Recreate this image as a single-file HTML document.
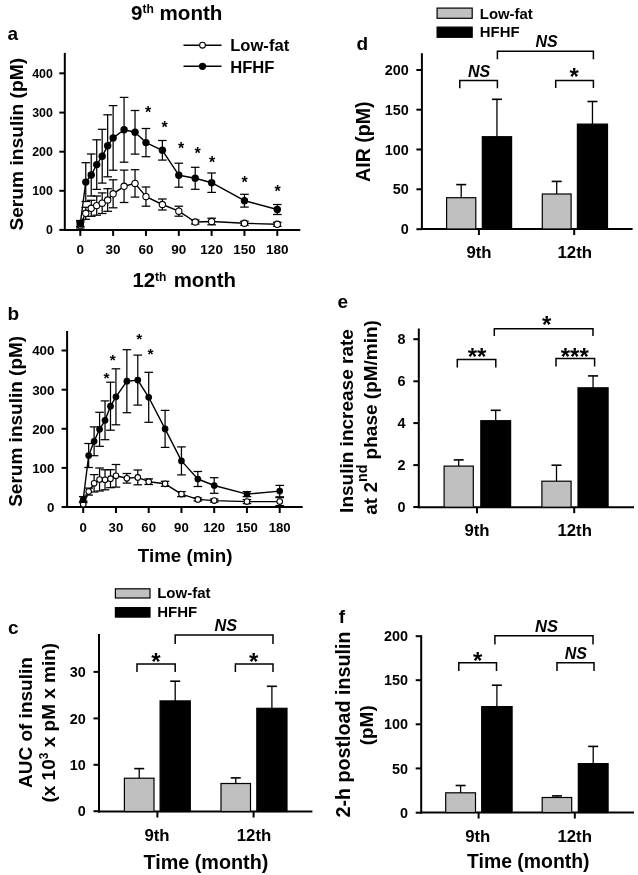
<!DOCTYPE html>
<html><head><meta charset="utf-8"><style>
html,body{margin:0;padding:0;background:#fff;}
svg{display:block;will-change:transform;}
text{font-family:"Liberation Sans", sans-serif;fill:#000;}
</style></head><body>
<svg width="638" height="875" viewBox="0 0 638 875">
<rect width="638" height="875" fill="#fff"/>
<line x1="64.80" y1="52.90" x2="64.80" y2="230.90" stroke="#000" stroke-width="2.0"/>
<line x1="63.80" y1="229.90" x2="300.30" y2="229.90" stroke="#000" stroke-width="2.0"/>
<line x1="59.30" y1="229.90" x2="64.80" y2="229.90" stroke="#000" stroke-width="2.0"/>
<text x="52.90" y="234.34" font-size="12.4" text-anchor="end" font-style="normal" font-weight="bold">0</text>
<line x1="59.30" y1="190.80" x2="64.80" y2="190.80" stroke="#000" stroke-width="2.0"/>
<text x="52.90" y="195.24" font-size="12.4" text-anchor="end" font-style="normal" font-weight="bold">100</text>
<line x1="59.30" y1="151.70" x2="64.80" y2="151.70" stroke="#000" stroke-width="2.0"/>
<text x="52.90" y="156.14" font-size="12.4" text-anchor="end" font-style="normal" font-weight="bold">200</text>
<line x1="59.30" y1="112.60" x2="64.80" y2="112.60" stroke="#000" stroke-width="2.0"/>
<text x="52.90" y="117.04" font-size="12.4" text-anchor="end" font-style="normal" font-weight="bold">300</text>
<line x1="59.30" y1="73.30" x2="64.80" y2="73.30" stroke="#000" stroke-width="2.0"/>
<text x="52.90" y="77.74" font-size="12.4" text-anchor="end" font-style="normal" font-weight="bold">400</text>
<line x1="80.30" y1="229.90" x2="80.30" y2="235.90" stroke="#000" stroke-width="2.0"/>
<text x="80.30" y="253.90" font-size="13.5" text-anchor="middle" font-style="normal" font-weight="bold">0</text>
<line x1="113.13" y1="229.90" x2="113.13" y2="235.90" stroke="#000" stroke-width="2.0"/>
<text x="113.13" y="253.90" font-size="13.5" text-anchor="middle" font-style="normal" font-weight="bold">30</text>
<line x1="145.96" y1="229.90" x2="145.96" y2="235.90" stroke="#000" stroke-width="2.0"/>
<text x="145.96" y="253.90" font-size="13.5" text-anchor="middle" font-style="normal" font-weight="bold">60</text>
<line x1="178.80" y1="229.90" x2="178.80" y2="235.90" stroke="#000" stroke-width="2.0"/>
<text x="178.80" y="253.90" font-size="13.5" text-anchor="middle" font-style="normal" font-weight="bold">90</text>
<line x1="211.63" y1="229.90" x2="211.63" y2="235.90" stroke="#000" stroke-width="2.0"/>
<text x="211.63" y="253.90" font-size="13.5" text-anchor="middle" font-style="normal" font-weight="bold">120</text>
<line x1="244.46" y1="229.90" x2="244.46" y2="235.90" stroke="#000" stroke-width="2.0"/>
<text x="244.46" y="253.90" font-size="13.5" text-anchor="middle" font-style="normal" font-weight="bold">150</text>
<line x1="277.29" y1="229.90" x2="277.29" y2="235.90" stroke="#000" stroke-width="2.0"/>
<text x="277.29" y="253.90" font-size="13.5" text-anchor="middle" font-style="normal" font-weight="bold">180</text>
<line x1="80.30" y1="222.00" x2="80.30" y2="228.00" stroke="#000" stroke-width="1.25"/>
<line x1="76.00" y1="222.00" x2="84.60" y2="222.00" stroke="#000" stroke-width="1.25"/>
<line x1="76.00" y1="228.00" x2="84.60" y2="228.00" stroke="#000" stroke-width="1.25"/>
<line x1="85.77" y1="207.30" x2="85.77" y2="219.30" stroke="#000" stroke-width="1.25"/>
<line x1="81.47" y1="207.30" x2="90.07" y2="207.30" stroke="#000" stroke-width="1.25"/>
<line x1="81.47" y1="219.30" x2="90.07" y2="219.30" stroke="#000" stroke-width="1.25"/>
<line x1="91.24" y1="200.30" x2="91.24" y2="216.30" stroke="#000" stroke-width="1.25"/>
<line x1="86.94" y1="200.30" x2="95.54" y2="200.30" stroke="#000" stroke-width="1.25"/>
<line x1="86.94" y1="216.30" x2="95.54" y2="216.30" stroke="#000" stroke-width="1.25"/>
<line x1="96.72" y1="196.00" x2="96.72" y2="215.20" stroke="#000" stroke-width="1.25"/>
<line x1="92.42" y1="196.00" x2="101.02" y2="196.00" stroke="#000" stroke-width="1.25"/>
<line x1="92.42" y1="215.20" x2="101.02" y2="215.20" stroke="#000" stroke-width="1.25"/>
<line x1="102.19" y1="192.90" x2="102.19" y2="213.50" stroke="#000" stroke-width="1.25"/>
<line x1="97.89" y1="192.90" x2="106.49" y2="192.90" stroke="#000" stroke-width="1.25"/>
<line x1="97.89" y1="213.50" x2="106.49" y2="213.50" stroke="#000" stroke-width="1.25"/>
<line x1="107.66" y1="188.70" x2="107.66" y2="211.30" stroke="#000" stroke-width="1.25"/>
<line x1="103.36" y1="188.70" x2="111.96" y2="188.70" stroke="#000" stroke-width="1.25"/>
<line x1="103.36" y1="211.30" x2="111.96" y2="211.30" stroke="#000" stroke-width="1.25"/>
<line x1="113.13" y1="179.80" x2="113.13" y2="207.80" stroke="#000" stroke-width="1.25"/>
<line x1="108.83" y1="179.80" x2="117.43" y2="179.80" stroke="#000" stroke-width="1.25"/>
<line x1="108.83" y1="207.80" x2="117.43" y2="207.80" stroke="#000" stroke-width="1.25"/>
<line x1="124.08" y1="170.10" x2="124.08" y2="202.50" stroke="#000" stroke-width="1.25"/>
<line x1="119.78" y1="170.10" x2="128.38" y2="170.10" stroke="#000" stroke-width="1.25"/>
<line x1="119.78" y1="202.50" x2="128.38" y2="202.50" stroke="#000" stroke-width="1.25"/>
<line x1="135.02" y1="169.70" x2="135.02" y2="197.10" stroke="#000" stroke-width="1.25"/>
<line x1="130.72" y1="169.70" x2="139.32" y2="169.70" stroke="#000" stroke-width="1.25"/>
<line x1="130.72" y1="197.10" x2="139.32" y2="197.10" stroke="#000" stroke-width="1.25"/>
<line x1="145.96" y1="187.00" x2="145.96" y2="206.20" stroke="#000" stroke-width="1.25"/>
<line x1="141.66" y1="187.00" x2="150.26" y2="187.00" stroke="#000" stroke-width="1.25"/>
<line x1="141.66" y1="206.20" x2="150.26" y2="206.20" stroke="#000" stroke-width="1.25"/>
<line x1="162.38" y1="199.00" x2="162.38" y2="210.00" stroke="#000" stroke-width="1.25"/>
<line x1="158.08" y1="199.00" x2="166.68" y2="199.00" stroke="#000" stroke-width="1.25"/>
<line x1="158.08" y1="210.00" x2="166.68" y2="210.00" stroke="#000" stroke-width="1.25"/>
<line x1="178.80" y1="206.20" x2="178.80" y2="216.20" stroke="#000" stroke-width="1.25"/>
<line x1="174.50" y1="206.20" x2="183.10" y2="206.20" stroke="#000" stroke-width="1.25"/>
<line x1="174.50" y1="216.20" x2="183.10" y2="216.20" stroke="#000" stroke-width="1.25"/>
<line x1="195.21" y1="220.00" x2="195.21" y2="224.00" stroke="#000" stroke-width="1.25"/>
<line x1="190.91" y1="220.00" x2="199.51" y2="220.00" stroke="#000" stroke-width="1.25"/>
<line x1="190.91" y1="224.00" x2="199.51" y2="224.00" stroke="#000" stroke-width="1.25"/>
<line x1="211.63" y1="218.20" x2="211.63" y2="224.80" stroke="#000" stroke-width="1.25"/>
<line x1="207.33" y1="218.20" x2="215.93" y2="218.20" stroke="#000" stroke-width="1.25"/>
<line x1="207.33" y1="224.80" x2="215.93" y2="224.80" stroke="#000" stroke-width="1.25"/>
<line x1="244.46" y1="221.30" x2="244.46" y2="225.30" stroke="#000" stroke-width="1.25"/>
<line x1="240.16" y1="221.30" x2="248.76" y2="221.30" stroke="#000" stroke-width="1.25"/>
<line x1="240.16" y1="225.30" x2="248.76" y2="225.30" stroke="#000" stroke-width="1.25"/>
<line x1="277.29" y1="222.30" x2="277.29" y2="226.30" stroke="#000" stroke-width="1.25"/>
<line x1="272.99" y1="222.30" x2="281.59" y2="222.30" stroke="#000" stroke-width="1.25"/>
<line x1="272.99" y1="226.30" x2="281.59" y2="226.30" stroke="#000" stroke-width="1.25"/>
<line x1="80.30" y1="220.50" x2="80.30" y2="226.50" stroke="#000" stroke-width="1.25"/>
<line x1="76.00" y1="220.50" x2="84.60" y2="220.50" stroke="#000" stroke-width="1.25"/>
<line x1="76.00" y1="226.50" x2="84.60" y2="226.50" stroke="#000" stroke-width="1.25"/>
<line x1="85.77" y1="162.70" x2="85.77" y2="201.50" stroke="#000" stroke-width="1.25"/>
<line x1="81.47" y1="162.70" x2="90.07" y2="162.70" stroke="#000" stroke-width="1.25"/>
<line x1="81.47" y1="201.50" x2="90.07" y2="201.50" stroke="#000" stroke-width="1.25"/>
<line x1="91.24" y1="154.00" x2="91.24" y2="196.00" stroke="#000" stroke-width="1.25"/>
<line x1="86.94" y1="154.00" x2="95.54" y2="154.00" stroke="#000" stroke-width="1.25"/>
<line x1="86.94" y1="196.00" x2="95.54" y2="196.00" stroke="#000" stroke-width="1.25"/>
<line x1="96.72" y1="139.80" x2="96.72" y2="189.40" stroke="#000" stroke-width="1.25"/>
<line x1="92.42" y1="139.80" x2="101.02" y2="139.80" stroke="#000" stroke-width="1.25"/>
<line x1="92.42" y1="189.40" x2="101.02" y2="189.40" stroke="#000" stroke-width="1.25"/>
<line x1="102.19" y1="129.30" x2="102.19" y2="183.10" stroke="#000" stroke-width="1.25"/>
<line x1="97.89" y1="129.30" x2="106.49" y2="129.30" stroke="#000" stroke-width="1.25"/>
<line x1="97.89" y1="183.10" x2="106.49" y2="183.10" stroke="#000" stroke-width="1.25"/>
<line x1="107.66" y1="114.80" x2="107.66" y2="176.80" stroke="#000" stroke-width="1.25"/>
<line x1="103.36" y1="114.80" x2="111.96" y2="114.80" stroke="#000" stroke-width="1.25"/>
<line x1="103.36" y1="176.80" x2="111.96" y2="176.80" stroke="#000" stroke-width="1.25"/>
<line x1="113.13" y1="105.60" x2="113.13" y2="170.20" stroke="#000" stroke-width="1.25"/>
<line x1="108.83" y1="105.60" x2="117.43" y2="105.60" stroke="#000" stroke-width="1.25"/>
<line x1="108.83" y1="170.20" x2="117.43" y2="170.20" stroke="#000" stroke-width="1.25"/>
<line x1="124.08" y1="97.40" x2="124.08" y2="162.20" stroke="#000" stroke-width="1.25"/>
<line x1="119.78" y1="97.40" x2="128.38" y2="97.40" stroke="#000" stroke-width="1.25"/>
<line x1="119.78" y1="162.20" x2="128.38" y2="162.20" stroke="#000" stroke-width="1.25"/>
<line x1="135.02" y1="110.50" x2="135.02" y2="154.10" stroke="#000" stroke-width="1.25"/>
<line x1="130.72" y1="110.50" x2="139.32" y2="110.50" stroke="#000" stroke-width="1.25"/>
<line x1="130.72" y1="154.10" x2="139.32" y2="154.10" stroke="#000" stroke-width="1.25"/>
<line x1="145.96" y1="128.50" x2="145.96" y2="156.70" stroke="#000" stroke-width="1.25"/>
<line x1="141.66" y1="128.50" x2="150.26" y2="128.50" stroke="#000" stroke-width="1.25"/>
<line x1="141.66" y1="156.70" x2="150.26" y2="156.70" stroke="#000" stroke-width="1.25"/>
<line x1="162.38" y1="140.50" x2="162.38" y2="160.10" stroke="#000" stroke-width="1.25"/>
<line x1="158.08" y1="140.50" x2="166.68" y2="140.50" stroke="#000" stroke-width="1.25"/>
<line x1="158.08" y1="160.10" x2="166.68" y2="160.10" stroke="#000" stroke-width="1.25"/>
<line x1="178.80" y1="163.20" x2="178.80" y2="187.20" stroke="#000" stroke-width="1.25"/>
<line x1="174.50" y1="163.20" x2="183.10" y2="163.20" stroke="#000" stroke-width="1.25"/>
<line x1="174.50" y1="187.20" x2="183.10" y2="187.20" stroke="#000" stroke-width="1.25"/>
<line x1="195.21" y1="167.30" x2="195.21" y2="189.30" stroke="#000" stroke-width="1.25"/>
<line x1="190.91" y1="167.30" x2="199.51" y2="167.30" stroke="#000" stroke-width="1.25"/>
<line x1="190.91" y1="189.30" x2="199.51" y2="189.30" stroke="#000" stroke-width="1.25"/>
<line x1="211.63" y1="173.00" x2="211.63" y2="192.40" stroke="#000" stroke-width="1.25"/>
<line x1="207.33" y1="173.00" x2="215.93" y2="173.00" stroke="#000" stroke-width="1.25"/>
<line x1="207.33" y1="192.40" x2="215.93" y2="192.40" stroke="#000" stroke-width="1.25"/>
<line x1="244.46" y1="194.30" x2="244.46" y2="207.10" stroke="#000" stroke-width="1.25"/>
<line x1="240.16" y1="194.30" x2="248.76" y2="194.30" stroke="#000" stroke-width="1.25"/>
<line x1="240.16" y1="207.10" x2="248.76" y2="207.10" stroke="#000" stroke-width="1.25"/>
<line x1="277.29" y1="204.50" x2="277.29" y2="214.50" stroke="#000" stroke-width="1.25"/>
<line x1="272.99" y1="204.50" x2="281.59" y2="204.50" stroke="#000" stroke-width="1.25"/>
<line x1="272.99" y1="214.50" x2="281.59" y2="214.50" stroke="#000" stroke-width="1.25"/>
<polyline points="80.30,225.00 85.77,213.30 91.24,208.30 96.72,205.60 102.19,203.20 107.66,200.00 113.13,193.80 124.08,186.30 135.02,183.40 145.96,196.60 162.38,204.50 178.80,211.20 195.21,222.00 211.63,221.50 244.46,223.30 277.29,224.30" fill="none" stroke="#000" stroke-width="1.4" stroke-linejoin="round"/>
<polyline points="80.30,223.50 85.77,182.10 91.24,175.00 96.72,164.60 102.19,156.20 107.66,145.80 113.13,137.90 124.08,129.80 135.02,132.30 145.96,142.60 162.38,150.30 178.80,175.20 195.21,178.30 211.63,182.70 244.46,200.70 277.29,209.50" fill="none" stroke="#000" stroke-width="1.4" stroke-linejoin="round"/>
<circle cx="80.30" cy="225.00" r="3.1500000000000004" fill="#fff" stroke="#000" stroke-width="1.1"/>
<circle cx="85.77" cy="213.30" r="3.1500000000000004" fill="#fff" stroke="#000" stroke-width="1.1"/>
<circle cx="91.24" cy="208.30" r="3.1500000000000004" fill="#fff" stroke="#000" stroke-width="1.1"/>
<circle cx="96.72" cy="205.60" r="3.1500000000000004" fill="#fff" stroke="#000" stroke-width="1.1"/>
<circle cx="102.19" cy="203.20" r="3.1500000000000004" fill="#fff" stroke="#000" stroke-width="1.1"/>
<circle cx="107.66" cy="200.00" r="3.1500000000000004" fill="#fff" stroke="#000" stroke-width="1.1"/>
<circle cx="113.13" cy="193.80" r="3.1500000000000004" fill="#fff" stroke="#000" stroke-width="1.1"/>
<circle cx="124.08" cy="186.30" r="3.1500000000000004" fill="#fff" stroke="#000" stroke-width="1.1"/>
<circle cx="135.02" cy="183.40" r="3.1500000000000004" fill="#fff" stroke="#000" stroke-width="1.1"/>
<circle cx="145.96" cy="196.60" r="3.1500000000000004" fill="#fff" stroke="#000" stroke-width="1.1"/>
<circle cx="162.38" cy="204.50" r="3.1500000000000004" fill="#fff" stroke="#000" stroke-width="1.1"/>
<circle cx="178.80" cy="211.20" r="3.1500000000000004" fill="#fff" stroke="#000" stroke-width="1.1"/>
<circle cx="195.21" cy="222.00" r="3.1500000000000004" fill="#fff" stroke="#000" stroke-width="1.1"/>
<circle cx="211.63" cy="221.50" r="3.1500000000000004" fill="#fff" stroke="#000" stroke-width="1.1"/>
<circle cx="244.46" cy="223.30" r="3.1500000000000004" fill="#fff" stroke="#000" stroke-width="1.1"/>
<circle cx="277.29" cy="224.30" r="3.1500000000000004" fill="#fff" stroke="#000" stroke-width="1.1"/>
<circle cx="80.30" cy="223.50" r="3.7" fill="#000" stroke="#000" stroke-width="0"/>
<circle cx="85.77" cy="182.10" r="3.7" fill="#000" stroke="#000" stroke-width="0"/>
<circle cx="91.24" cy="175.00" r="3.7" fill="#000" stroke="#000" stroke-width="0"/>
<circle cx="96.72" cy="164.60" r="3.7" fill="#000" stroke="#000" stroke-width="0"/>
<circle cx="102.19" cy="156.20" r="3.7" fill="#000" stroke="#000" stroke-width="0"/>
<circle cx="107.66" cy="145.80" r="3.7" fill="#000" stroke="#000" stroke-width="0"/>
<circle cx="113.13" cy="137.90" r="3.7" fill="#000" stroke="#000" stroke-width="0"/>
<circle cx="124.08" cy="129.80" r="3.7" fill="#000" stroke="#000" stroke-width="0"/>
<circle cx="135.02" cy="132.30" r="3.7" fill="#000" stroke="#000" stroke-width="0"/>
<circle cx="145.96" cy="142.60" r="3.7" fill="#000" stroke="#000" stroke-width="0"/>
<circle cx="162.38" cy="150.30" r="3.7" fill="#000" stroke="#000" stroke-width="0"/>
<circle cx="178.80" cy="175.20" r="3.7" fill="#000" stroke="#000" stroke-width="0"/>
<circle cx="195.21" cy="178.30" r="3.7" fill="#000" stroke="#000" stroke-width="0"/>
<circle cx="211.63" cy="182.70" r="3.7" fill="#000" stroke="#000" stroke-width="0"/>
<circle cx="244.46" cy="200.70" r="3.7" fill="#000" stroke="#000" stroke-width="0"/>
<circle cx="277.29" cy="209.50" r="3.7" fill="#000" stroke="#000" stroke-width="0"/>
<text x="148.20" y="117.98" font-size="16" text-anchor="middle" font-style="normal" font-weight="bold">*</text>
<text x="164.70" y="133.08" font-size="16" text-anchor="middle" font-style="normal" font-weight="bold">*</text>
<text x="181.00" y="153.98" font-size="16" text-anchor="middle" font-style="normal" font-weight="bold">*</text>
<text x="197.70" y="159.08" font-size="16" text-anchor="middle" font-style="normal" font-weight="bold">*</text>
<text x="212.20" y="167.88" font-size="16" text-anchor="middle" font-style="normal" font-weight="bold">*</text>
<text x="244.70" y="188.28" font-size="16" text-anchor="middle" font-style="normal" font-weight="bold">*</text>
<text x="277.60" y="197.08" font-size="16" text-anchor="middle" font-style="normal" font-weight="bold">*</text>
<text x="131.00" y="19.80" font-size="20.6" text-anchor="start" font-style="normal" font-weight="bold">9<tspan font-size="12" dy="-6.3">th</tspan><tspan dy="6.3"> month</tspan></text>
<text x="7.40" y="40.00" font-size="19" text-anchor="start" font-style="normal" font-weight="bold">a</text>
<text x="22.70" y="230.60" font-size="19.2" text-anchor="start" font-style="normal" font-weight="bold" transform="rotate(-90 22.70 230.60)">Serum insulin (pM)</text>
<line x1="183.50" y1="45.20" x2="221.50" y2="45.20" stroke="#000" stroke-width="1.5"/>
<circle cx="202.50" cy="45.20" r="2.9" fill="#fff" stroke="#000" stroke-width="1.1"/>
<line x1="183.50" y1="66.30" x2="221.50" y2="66.30" stroke="#000" stroke-width="1.5"/>
<circle cx="202.50" cy="66.30" r="3.6" fill="#000" stroke="#000" stroke-width="0"/>
<text x="230.20" y="50.80" font-size="16.6" text-anchor="start" font-style="normal" font-weight="bold">Low-fat</text>
<text x="230.20" y="72.60" font-size="16.6" text-anchor="start" font-style="normal" font-weight="bold">HFHF</text>
<line x1="67.10" y1="331.00" x2="67.10" y2="508.00" stroke="#000" stroke-width="2.0"/>
<line x1="66.10" y1="507.00" x2="302.70" y2="507.00" stroke="#000" stroke-width="2.0"/>
<line x1="61.60" y1="507.00" x2="67.10" y2="507.00" stroke="#000" stroke-width="2.0"/>
<text x="54.50" y="511.80" font-size="13.4" text-anchor="end" font-style="normal" font-weight="bold">0</text>
<line x1="61.60" y1="467.90" x2="67.10" y2="467.90" stroke="#000" stroke-width="2.0"/>
<text x="54.50" y="472.70" font-size="13.4" text-anchor="end" font-style="normal" font-weight="bold">100</text>
<line x1="61.60" y1="428.80" x2="67.10" y2="428.80" stroke="#000" stroke-width="2.0"/>
<text x="54.50" y="433.60" font-size="13.4" text-anchor="end" font-style="normal" font-weight="bold">200</text>
<line x1="61.60" y1="389.70" x2="67.10" y2="389.70" stroke="#000" stroke-width="2.0"/>
<text x="54.50" y="394.50" font-size="13.4" text-anchor="end" font-style="normal" font-weight="bold">300</text>
<line x1="61.60" y1="350.50" x2="67.10" y2="350.50" stroke="#000" stroke-width="2.0"/>
<text x="54.50" y="355.30" font-size="13.4" text-anchor="end" font-style="normal" font-weight="bold">400</text>
<line x1="83.20" y1="507.00" x2="83.20" y2="513.00" stroke="#000" stroke-width="2.0"/>
<text x="83.20" y="531.80" font-size="13.2" text-anchor="middle" font-style="normal" font-weight="bold">0</text>
<line x1="115.95" y1="507.00" x2="115.95" y2="513.00" stroke="#000" stroke-width="2.0"/>
<text x="115.95" y="531.80" font-size="13.2" text-anchor="middle" font-style="normal" font-weight="bold">30</text>
<line x1="148.70" y1="507.00" x2="148.70" y2="513.00" stroke="#000" stroke-width="2.0"/>
<text x="148.70" y="531.80" font-size="13.2" text-anchor="middle" font-style="normal" font-weight="bold">60</text>
<line x1="181.45" y1="507.00" x2="181.45" y2="513.00" stroke="#000" stroke-width="2.0"/>
<text x="181.45" y="531.80" font-size="13.2" text-anchor="middle" font-style="normal" font-weight="bold">90</text>
<line x1="214.20" y1="507.00" x2="214.20" y2="513.00" stroke="#000" stroke-width="2.0"/>
<text x="214.20" y="531.80" font-size="13.2" text-anchor="middle" font-style="normal" font-weight="bold">120</text>
<line x1="246.95" y1="507.00" x2="246.95" y2="513.00" stroke="#000" stroke-width="2.0"/>
<text x="246.95" y="531.80" font-size="13.2" text-anchor="middle" font-style="normal" font-weight="bold">150</text>
<line x1="279.71" y1="507.00" x2="279.71" y2="513.00" stroke="#000" stroke-width="2.0"/>
<text x="279.71" y="531.80" font-size="13.2" text-anchor="middle" font-style="normal" font-weight="bold">180</text>
<line x1="83.20" y1="501.30" x2="83.20" y2="507.30" stroke="#000" stroke-width="1.25"/>
<line x1="78.90" y1="501.30" x2="87.50" y2="501.30" stroke="#000" stroke-width="1.25"/>
<line x1="78.90" y1="507.30" x2="87.50" y2="507.30" stroke="#000" stroke-width="1.25"/>
<line x1="88.66" y1="488.10" x2="88.66" y2="495.10" stroke="#000" stroke-width="1.25"/>
<line x1="84.36" y1="488.10" x2="92.96" y2="488.10" stroke="#000" stroke-width="1.25"/>
<line x1="84.36" y1="495.10" x2="92.96" y2="495.10" stroke="#000" stroke-width="1.25"/>
<line x1="94.12" y1="474.60" x2="94.12" y2="492.00" stroke="#000" stroke-width="1.25"/>
<line x1="89.82" y1="474.60" x2="98.42" y2="474.60" stroke="#000" stroke-width="1.25"/>
<line x1="89.82" y1="492.00" x2="98.42" y2="492.00" stroke="#000" stroke-width="1.25"/>
<line x1="99.58" y1="468.00" x2="99.58" y2="491.00" stroke="#000" stroke-width="1.25"/>
<line x1="95.28" y1="468.00" x2="103.88" y2="468.00" stroke="#000" stroke-width="1.25"/>
<line x1="95.28" y1="491.00" x2="103.88" y2="491.00" stroke="#000" stroke-width="1.25"/>
<line x1="105.03" y1="469.80" x2="105.03" y2="489.80" stroke="#000" stroke-width="1.25"/>
<line x1="100.73" y1="469.80" x2="109.33" y2="469.80" stroke="#000" stroke-width="1.25"/>
<line x1="100.73" y1="489.80" x2="109.33" y2="489.80" stroke="#000" stroke-width="1.25"/>
<line x1="110.49" y1="469.70" x2="110.49" y2="487.70" stroke="#000" stroke-width="1.25"/>
<line x1="106.19" y1="469.70" x2="114.79" y2="469.70" stroke="#000" stroke-width="1.25"/>
<line x1="106.19" y1="487.70" x2="114.79" y2="487.70" stroke="#000" stroke-width="1.25"/>
<line x1="115.95" y1="464.50" x2="115.95" y2="487.10" stroke="#000" stroke-width="1.25"/>
<line x1="111.65" y1="464.50" x2="120.25" y2="464.50" stroke="#000" stroke-width="1.25"/>
<line x1="111.65" y1="487.10" x2="120.25" y2="487.10" stroke="#000" stroke-width="1.25"/>
<line x1="126.87" y1="473.50" x2="126.87" y2="483.10" stroke="#000" stroke-width="1.25"/>
<line x1="122.57" y1="473.50" x2="131.17" y2="473.50" stroke="#000" stroke-width="1.25"/>
<line x1="122.57" y1="483.10" x2="131.17" y2="483.10" stroke="#000" stroke-width="1.25"/>
<line x1="137.78" y1="470.00" x2="137.78" y2="484.80" stroke="#000" stroke-width="1.25"/>
<line x1="133.48" y1="470.00" x2="142.09" y2="470.00" stroke="#000" stroke-width="1.25"/>
<line x1="133.48" y1="484.80" x2="142.09" y2="484.80" stroke="#000" stroke-width="1.25"/>
<line x1="148.70" y1="478.90" x2="148.70" y2="484.50" stroke="#000" stroke-width="1.25"/>
<line x1="144.40" y1="478.90" x2="153.00" y2="478.90" stroke="#000" stroke-width="1.25"/>
<line x1="144.40" y1="484.50" x2="153.00" y2="484.50" stroke="#000" stroke-width="1.25"/>
<line x1="165.08" y1="481.30" x2="165.08" y2="486.30" stroke="#000" stroke-width="1.25"/>
<line x1="160.78" y1="481.30" x2="169.38" y2="481.30" stroke="#000" stroke-width="1.25"/>
<line x1="160.78" y1="486.30" x2="169.38" y2="486.30" stroke="#000" stroke-width="1.25"/>
<line x1="181.45" y1="491.60" x2="181.45" y2="496.60" stroke="#000" stroke-width="1.25"/>
<line x1="177.15" y1="491.60" x2="185.75" y2="491.60" stroke="#000" stroke-width="1.25"/>
<line x1="177.15" y1="496.60" x2="185.75" y2="496.60" stroke="#000" stroke-width="1.25"/>
<line x1="197.83" y1="497.90" x2="197.83" y2="500.90" stroke="#000" stroke-width="1.25"/>
<line x1="193.53" y1="497.90" x2="202.13" y2="497.90" stroke="#000" stroke-width="1.25"/>
<line x1="193.53" y1="500.90" x2="202.13" y2="500.90" stroke="#000" stroke-width="1.25"/>
<line x1="214.20" y1="499.10" x2="214.20" y2="502.10" stroke="#000" stroke-width="1.25"/>
<line x1="209.90" y1="499.10" x2="218.50" y2="499.10" stroke="#000" stroke-width="1.25"/>
<line x1="209.90" y1="502.10" x2="218.50" y2="502.10" stroke="#000" stroke-width="1.25"/>
<line x1="246.95" y1="499.60" x2="246.95" y2="503.60" stroke="#000" stroke-width="1.25"/>
<line x1="242.65" y1="499.60" x2="251.25" y2="499.60" stroke="#000" stroke-width="1.25"/>
<line x1="242.65" y1="503.60" x2="251.25" y2="503.60" stroke="#000" stroke-width="1.25"/>
<line x1="279.71" y1="497.60" x2="279.71" y2="505.60" stroke="#000" stroke-width="1.25"/>
<line x1="275.41" y1="497.60" x2="284.01" y2="497.60" stroke="#000" stroke-width="1.25"/>
<line x1="275.41" y1="505.60" x2="284.01" y2="505.60" stroke="#000" stroke-width="1.25"/>
<line x1="83.20" y1="496.70" x2="83.20" y2="502.70" stroke="#000" stroke-width="1.25"/>
<line x1="78.90" y1="496.70" x2="87.50" y2="496.70" stroke="#000" stroke-width="1.25"/>
<line x1="78.90" y1="502.70" x2="87.50" y2="502.70" stroke="#000" stroke-width="1.25"/>
<line x1="88.66" y1="443.50" x2="88.66" y2="467.50" stroke="#000" stroke-width="1.25"/>
<line x1="84.36" y1="443.50" x2="92.96" y2="443.50" stroke="#000" stroke-width="1.25"/>
<line x1="84.36" y1="467.50" x2="92.96" y2="467.50" stroke="#000" stroke-width="1.25"/>
<line x1="94.12" y1="426.90" x2="94.12" y2="455.70" stroke="#000" stroke-width="1.25"/>
<line x1="89.82" y1="426.90" x2="98.42" y2="426.90" stroke="#000" stroke-width="1.25"/>
<line x1="89.82" y1="455.70" x2="98.42" y2="455.70" stroke="#000" stroke-width="1.25"/>
<line x1="99.58" y1="412.30" x2="99.58" y2="446.30" stroke="#000" stroke-width="1.25"/>
<line x1="95.28" y1="412.30" x2="103.88" y2="412.30" stroke="#000" stroke-width="1.25"/>
<line x1="95.28" y1="446.30" x2="103.88" y2="446.30" stroke="#000" stroke-width="1.25"/>
<line x1="105.03" y1="400.90" x2="105.03" y2="439.70" stroke="#000" stroke-width="1.25"/>
<line x1="100.73" y1="400.90" x2="109.33" y2="400.90" stroke="#000" stroke-width="1.25"/>
<line x1="100.73" y1="439.70" x2="109.33" y2="439.70" stroke="#000" stroke-width="1.25"/>
<line x1="110.49" y1="382.20" x2="110.49" y2="430.20" stroke="#000" stroke-width="1.25"/>
<line x1="106.19" y1="382.20" x2="114.79" y2="382.20" stroke="#000" stroke-width="1.25"/>
<line x1="106.19" y1="430.20" x2="114.79" y2="430.20" stroke="#000" stroke-width="1.25"/>
<line x1="115.95" y1="368.80" x2="115.95" y2="424.80" stroke="#000" stroke-width="1.25"/>
<line x1="111.65" y1="368.80" x2="120.25" y2="368.80" stroke="#000" stroke-width="1.25"/>
<line x1="111.65" y1="424.80" x2="120.25" y2="424.80" stroke="#000" stroke-width="1.25"/>
<line x1="126.87" y1="349.70" x2="126.87" y2="412.70" stroke="#000" stroke-width="1.25"/>
<line x1="122.57" y1="349.70" x2="131.17" y2="349.70" stroke="#000" stroke-width="1.25"/>
<line x1="122.57" y1="412.70" x2="131.17" y2="412.70" stroke="#000" stroke-width="1.25"/>
<line x1="137.78" y1="355.10" x2="137.78" y2="405.10" stroke="#000" stroke-width="1.25"/>
<line x1="133.48" y1="355.10" x2="142.09" y2="355.10" stroke="#000" stroke-width="1.25"/>
<line x1="133.48" y1="405.10" x2="142.09" y2="405.10" stroke="#000" stroke-width="1.25"/>
<line x1="148.70" y1="372.30" x2="148.70" y2="422.30" stroke="#000" stroke-width="1.25"/>
<line x1="144.40" y1="372.30" x2="153.00" y2="372.30" stroke="#000" stroke-width="1.25"/>
<line x1="144.40" y1="422.30" x2="153.00" y2="422.30" stroke="#000" stroke-width="1.25"/>
<line x1="165.08" y1="410.40" x2="165.08" y2="447.40" stroke="#000" stroke-width="1.25"/>
<line x1="160.78" y1="410.40" x2="169.38" y2="410.40" stroke="#000" stroke-width="1.25"/>
<line x1="160.78" y1="447.40" x2="169.38" y2="447.40" stroke="#000" stroke-width="1.25"/>
<line x1="181.45" y1="446.90" x2="181.45" y2="474.90" stroke="#000" stroke-width="1.25"/>
<line x1="177.15" y1="446.90" x2="185.75" y2="446.90" stroke="#000" stroke-width="1.25"/>
<line x1="177.15" y1="474.90" x2="185.75" y2="474.90" stroke="#000" stroke-width="1.25"/>
<line x1="197.83" y1="471.50" x2="197.83" y2="486.50" stroke="#000" stroke-width="1.25"/>
<line x1="193.53" y1="471.50" x2="202.13" y2="471.50" stroke="#000" stroke-width="1.25"/>
<line x1="193.53" y1="486.50" x2="202.13" y2="486.50" stroke="#000" stroke-width="1.25"/>
<line x1="214.20" y1="477.70" x2="214.20" y2="493.30" stroke="#000" stroke-width="1.25"/>
<line x1="209.90" y1="477.70" x2="218.50" y2="477.70" stroke="#000" stroke-width="1.25"/>
<line x1="209.90" y1="493.30" x2="218.50" y2="493.30" stroke="#000" stroke-width="1.25"/>
<line x1="246.95" y1="491.60" x2="246.95" y2="496.60" stroke="#000" stroke-width="1.25"/>
<line x1="242.65" y1="491.60" x2="251.25" y2="491.60" stroke="#000" stroke-width="1.25"/>
<line x1="242.65" y1="496.60" x2="251.25" y2="496.60" stroke="#000" stroke-width="1.25"/>
<line x1="279.71" y1="485.40" x2="279.71" y2="496.80" stroke="#000" stroke-width="1.25"/>
<line x1="275.41" y1="485.40" x2="284.01" y2="485.40" stroke="#000" stroke-width="1.25"/>
<line x1="275.41" y1="496.80" x2="284.01" y2="496.80" stroke="#000" stroke-width="1.25"/>
<polyline points="83.20,504.30 88.66,491.60 94.12,483.30 99.58,479.50 105.03,479.80 110.49,478.70 115.95,475.80 126.87,478.30 137.78,477.40 148.70,481.70 165.08,483.80 181.45,494.10 197.83,499.40 214.20,500.60 246.95,501.60 279.71,501.60" fill="none" stroke="#000" stroke-width="1.4" stroke-linejoin="round"/>
<polyline points="83.20,499.70 88.66,455.50 94.12,441.30 99.58,429.30 105.03,420.30 110.49,406.20 115.95,396.80 126.87,381.20 137.78,380.10 148.70,397.30 165.08,428.90 181.45,460.90 197.83,479.00 214.20,485.50 246.95,494.10 279.71,491.10" fill="none" stroke="#000" stroke-width="1.4" stroke-linejoin="round"/>
<circle cx="83.20" cy="504.30" r="2.8" fill="#fff" stroke="#000" stroke-width="1.1"/>
<circle cx="88.66" cy="491.60" r="2.8" fill="#fff" stroke="#000" stroke-width="1.1"/>
<circle cx="94.12" cy="483.30" r="2.8" fill="#fff" stroke="#000" stroke-width="1.1"/>
<circle cx="99.58" cy="479.50" r="2.8" fill="#fff" stroke="#000" stroke-width="1.1"/>
<circle cx="105.03" cy="479.80" r="2.8" fill="#fff" stroke="#000" stroke-width="1.1"/>
<circle cx="110.49" cy="478.70" r="2.8" fill="#fff" stroke="#000" stroke-width="1.1"/>
<circle cx="115.95" cy="475.80" r="2.8" fill="#fff" stroke="#000" stroke-width="1.1"/>
<circle cx="126.87" cy="478.30" r="2.8" fill="#fff" stroke="#000" stroke-width="1.1"/>
<circle cx="137.78" cy="477.40" r="2.8" fill="#fff" stroke="#000" stroke-width="1.1"/>
<circle cx="148.70" cy="481.70" r="2.8" fill="#fff" stroke="#000" stroke-width="1.1"/>
<circle cx="165.08" cy="483.80" r="2.8" fill="#fff" stroke="#000" stroke-width="1.1"/>
<circle cx="181.45" cy="494.10" r="2.8" fill="#fff" stroke="#000" stroke-width="1.1"/>
<circle cx="197.83" cy="499.40" r="2.8" fill="#fff" stroke="#000" stroke-width="1.1"/>
<circle cx="214.20" cy="500.60" r="2.8" fill="#fff" stroke="#000" stroke-width="1.1"/>
<circle cx="246.95" cy="501.60" r="2.8" fill="#fff" stroke="#000" stroke-width="1.1"/>
<circle cx="279.71" cy="501.60" r="2.8" fill="#fff" stroke="#000" stroke-width="1.1"/>
<circle cx="83.20" cy="499.70" r="3.35" fill="#000" stroke="#000" stroke-width="0"/>
<circle cx="88.66" cy="455.50" r="3.35" fill="#000" stroke="#000" stroke-width="0"/>
<circle cx="94.12" cy="441.30" r="3.35" fill="#000" stroke="#000" stroke-width="0"/>
<circle cx="99.58" cy="429.30" r="3.35" fill="#000" stroke="#000" stroke-width="0"/>
<circle cx="105.03" cy="420.30" r="3.35" fill="#000" stroke="#000" stroke-width="0"/>
<circle cx="110.49" cy="406.20" r="3.35" fill="#000" stroke="#000" stroke-width="0"/>
<circle cx="115.95" cy="396.80" r="3.35" fill="#000" stroke="#000" stroke-width="0"/>
<circle cx="126.87" cy="381.20" r="3.35" fill="#000" stroke="#000" stroke-width="0"/>
<circle cx="137.78" cy="380.10" r="3.35" fill="#000" stroke="#000" stroke-width="0"/>
<circle cx="148.70" cy="397.30" r="3.35" fill="#000" stroke="#000" stroke-width="0"/>
<circle cx="165.08" cy="428.90" r="3.35" fill="#000" stroke="#000" stroke-width="0"/>
<circle cx="181.45" cy="460.90" r="3.35" fill="#000" stroke="#000" stroke-width="0"/>
<circle cx="197.83" cy="479.00" r="3.35" fill="#000" stroke="#000" stroke-width="0"/>
<circle cx="214.20" cy="485.50" r="3.35" fill="#000" stroke="#000" stroke-width="0"/>
<circle cx="246.95" cy="494.10" r="3.35" fill="#000" stroke="#000" stroke-width="0"/>
<circle cx="279.71" cy="491.10" r="3.35" fill="#000" stroke="#000" stroke-width="0"/>
<text x="106.50" y="383.00" font-size="15.5" text-anchor="middle" font-style="normal" font-weight="bold">*</text>
<text x="112.70" y="365.20" font-size="15.5" text-anchor="middle" font-style="normal" font-weight="bold">*</text>
<text x="139.20" y="344.10" font-size="15.5" text-anchor="middle" font-style="normal" font-weight="bold">*</text>
<text x="150.40" y="359.40" font-size="15.5" text-anchor="middle" font-style="normal" font-weight="bold">*</text>
<text x="132.40" y="287.30" font-size="20.4" text-anchor="start" font-style="normal" font-weight="bold">12<tspan font-size="12" dy="-6.8">th</tspan><tspan dy="6.8" dx="1.6"> month</tspan></text>
<text x="7.60" y="320.20" font-size="19" text-anchor="start" font-style="normal" font-weight="bold">b</text>
<text x="21.90" y="506.80" font-size="19" text-anchor="start" font-style="normal" font-weight="bold" transform="rotate(-90 21.90 506.80)">Serum insulin (pM)</text>
<text x="185.10" y="562.00" font-size="18.8" text-anchor="middle" font-style="normal" font-weight="bold">Time (min)</text>
<line x1="99.00" y1="633.90" x2="99.00" y2="812.50" stroke="#000" stroke-width="2.0"/>
<line x1="98.00" y1="811.50" x2="312.40" y2="811.50" stroke="#000" stroke-width="2.0"/>
<line x1="93.50" y1="811.20" x2="99.00" y2="811.20" stroke="#000" stroke-width="2.0"/>
<text x="85.80" y="816.36" font-size="14.4" text-anchor="end" font-style="normal" font-weight="bold">0</text>
<line x1="93.50" y1="764.80" x2="99.00" y2="764.80" stroke="#000" stroke-width="2.0"/>
<text x="85.80" y="769.96" font-size="14.4" text-anchor="end" font-style="normal" font-weight="bold">10</text>
<line x1="93.50" y1="718.40" x2="99.00" y2="718.40" stroke="#000" stroke-width="2.0"/>
<text x="85.80" y="723.56" font-size="14.4" text-anchor="end" font-style="normal" font-weight="bold">20</text>
<line x1="93.50" y1="671.90" x2="99.00" y2="671.90" stroke="#000" stroke-width="2.0"/>
<text x="85.80" y="677.06" font-size="14.4" text-anchor="end" font-style="normal" font-weight="bold">30</text>
<line x1="157.40" y1="811.50" x2="157.40" y2="817.50" stroke="#000" stroke-width="2.0"/>
<line x1="253.60" y1="811.50" x2="253.60" y2="817.50" stroke="#000" stroke-width="2.0"/>
<line x1="139.20" y1="768.60" x2="139.20" y2="778.20" stroke="#000" stroke-width="1.3"/>
<line x1="134.20" y1="768.60" x2="144.20" y2="768.60" stroke="#000" stroke-width="1.6"/>
<rect x="124.40" y="778.20" width="29.60" height="33.30" fill="#c0c0c0" stroke="#000" stroke-width="1.2"/>
<line x1="175.20" y1="681.20" x2="175.20" y2="700.90" stroke="#000" stroke-width="1.3"/>
<line x1="170.20" y1="681.20" x2="180.20" y2="681.20" stroke="#000" stroke-width="1.6"/>
<rect x="160.10" y="700.90" width="30.20" height="110.60" fill="#000" stroke="#000" stroke-width="1.2"/>
<line x1="235.75" y1="777.90" x2="235.75" y2="783.50" stroke="#000" stroke-width="1.3"/>
<line x1="230.75" y1="777.90" x2="240.75" y2="777.90" stroke="#000" stroke-width="1.6"/>
<rect x="221.00" y="783.50" width="29.50" height="28.00" fill="#c0c0c0" stroke="#000" stroke-width="1.2"/>
<line x1="271.90" y1="686.30" x2="271.90" y2="708.30" stroke="#000" stroke-width="1.3"/>
<line x1="266.90" y1="686.30" x2="276.90" y2="686.30" stroke="#000" stroke-width="1.6"/>
<rect x="256.80" y="708.30" width="30.20" height="103.20" fill="#000" stroke="#000" stroke-width="1.2"/>
<path d="M137.00,672.10 L137.00,663.90 L175.20,663.90 L175.20,672.10" fill="none" stroke="#000" stroke-width="1.5"/>
<path d="M235.40,672.10 L235.40,663.90 L273.00,663.90 L273.00,672.10" fill="none" stroke="#000" stroke-width="1.5"/>
<path d="M175.20,643.90 L175.20,635.10 L273.00,635.10 L273.00,643.90" fill="none" stroke="#000" stroke-width="1.5"/>
<text x="155.80" y="670.02" font-size="24" text-anchor="middle" font-style="normal" font-weight="bold">*</text>
<text x="253.60" y="670.02" font-size="24" text-anchor="middle" font-style="normal" font-weight="bold">*</text>
<text x="225.80" y="631.30" font-size="16.3" text-anchor="middle" font-style="italic" font-weight="bold">NS</text>
<text x="157.00" y="841.30" font-size="16.8" text-anchor="middle" font-style="normal" font-weight="bold">9th</text>
<text x="254.00" y="841.30" font-size="16.8" text-anchor="middle" font-style="normal" font-weight="bold">12th</text>
<text x="8.00" y="634.00" font-size="19" text-anchor="start" font-style="normal" font-weight="bold">c</text>
<text x="205.90" y="868.50" font-size="19.8" text-anchor="middle" font-style="normal" font-weight="bold">Time (month)</text>
<rect x="115.40" y="588.80" width="34.60" height="9.20" fill="#c0c0c0" stroke="#000" stroke-width="1.2"/>
<rect x="115.40" y="607.60" width="34.60" height="9.50" fill="#000" stroke="#000" stroke-width="1.2"/>
<text x="157.20" y="598.00" font-size="15" text-anchor="start" font-style="normal" font-weight="bold">Low-fat</text>
<text x="157.20" y="616.50" font-size="15" text-anchor="start" font-style="normal" font-weight="bold">HFHF</text>
<text x="32.10" y="722.60" font-size="19" text-anchor="middle" font-style="normal" font-weight="bold" transform="rotate(-90 32.10 722.60)">AUC of insulin</text>
<text x="55.20" y="722.70" font-size="19" text-anchor="middle" font-style="normal" font-weight="bold" transform="rotate(-90 55.20 722.70)">(x 10<tspan font-size="12" dy="-7">3</tspan><tspan dy="7"> x pM x min)</tspan></text>
<line x1="421.90" y1="53.20" x2="421.90" y2="230.00" stroke="#000" stroke-width="2.0"/>
<line x1="420.90" y1="229.00" x2="632.60" y2="229.00" stroke="#000" stroke-width="2.0"/>
<line x1="416.40" y1="229.20" x2="421.90" y2="229.20" stroke="#000" stroke-width="2.0"/>
<text x="408.70" y="234.36" font-size="14.4" text-anchor="end" font-style="normal" font-weight="bold">0</text>
<line x1="416.40" y1="189.30" x2="421.90" y2="189.30" stroke="#000" stroke-width="2.0"/>
<text x="408.70" y="194.46" font-size="14.4" text-anchor="end" font-style="normal" font-weight="bold">50</text>
<line x1="416.40" y1="149.50" x2="421.90" y2="149.50" stroke="#000" stroke-width="2.0"/>
<text x="408.70" y="154.66" font-size="14.4" text-anchor="end" font-style="normal" font-weight="bold">100</text>
<line x1="416.40" y1="109.70" x2="421.90" y2="109.70" stroke="#000" stroke-width="2.0"/>
<text x="408.70" y="114.86" font-size="14.4" text-anchor="end" font-style="normal" font-weight="bold">150</text>
<line x1="416.40" y1="70.00" x2="421.90" y2="70.00" stroke="#000" stroke-width="2.0"/>
<text x="408.70" y="75.16" font-size="14.4" text-anchor="end" font-style="normal" font-weight="bold">200</text>
<line x1="478.90" y1="229.00" x2="478.90" y2="235.00" stroke="#000" stroke-width="2.0"/>
<line x1="574.20" y1="229.00" x2="574.20" y2="235.00" stroke="#000" stroke-width="2.0"/>
<line x1="461.20" y1="184.60" x2="461.20" y2="197.70" stroke="#000" stroke-width="1.3"/>
<line x1="456.20" y1="184.60" x2="466.20" y2="184.60" stroke="#000" stroke-width="1.6"/>
<rect x="446.60" y="197.70" width="29.20" height="31.30" fill="#c0c0c0" stroke="#000" stroke-width="1.2"/>
<line x1="496.95" y1="99.30" x2="496.95" y2="136.70" stroke="#000" stroke-width="1.3"/>
<line x1="491.95" y1="99.30" x2="501.95" y2="99.30" stroke="#000" stroke-width="1.6"/>
<rect x="482.30" y="136.70" width="29.30" height="92.30" fill="#000" stroke="#000" stroke-width="1.2"/>
<line x1="556.70" y1="181.40" x2="556.70" y2="194.00" stroke="#000" stroke-width="1.3"/>
<line x1="551.70" y1="181.40" x2="561.70" y2="181.40" stroke="#000" stroke-width="1.6"/>
<rect x="542.30" y="194.00" width="28.80" height="35.00" fill="#c0c0c0" stroke="#000" stroke-width="1.2"/>
<line x1="592.45" y1="101.50" x2="592.45" y2="124.10" stroke="#000" stroke-width="1.3"/>
<line x1="587.45" y1="101.50" x2="597.45" y2="101.50" stroke="#000" stroke-width="1.6"/>
<rect x="577.40" y="124.10" width="30.10" height="104.90" fill="#000" stroke="#000" stroke-width="1.2"/>
<path d="M459.80,88.30 L459.80,80.50 L497.40,80.50 L497.40,88.30" fill="none" stroke="#000" stroke-width="1.5"/>
<path d="M555.70,88.00 L555.70,80.50 L593.40,80.50 L593.40,88.00" fill="none" stroke="#000" stroke-width="1.5"/>
<path d="M497.40,59.20 L497.40,51.30 L593.40,51.30 L593.40,59.20" fill="none" stroke="#000" stroke-width="1.5"/>
<text x="479.00" y="77.00" font-size="16" text-anchor="middle" font-style="italic" font-weight="bold">NS</text>
<text x="574.20" y="85.02" font-size="24" text-anchor="middle" font-style="normal" font-weight="bold">*</text>
<text x="546.60" y="46.60" font-size="16" text-anchor="middle" font-style="italic" font-weight="bold">NS</text>
<text x="479.00" y="258.00" font-size="16.8" text-anchor="middle" font-style="normal" font-weight="bold">9th</text>
<text x="574.80" y="258.00" font-size="16.8" text-anchor="middle" font-style="normal" font-weight="bold">12th</text>
<text x="356.50" y="50.20" font-size="19" text-anchor="start" font-style="normal" font-weight="bold">d</text>
<rect x="437.10" y="8.10" width="35.10" height="10.20" fill="#c0c0c0" stroke="#000" stroke-width="1.2"/>
<rect x="437.10" y="27.10" width="35.10" height="10.20" fill="#000" stroke="#000" stroke-width="1.2"/>
<text x="479.80" y="18.50" font-size="14.9" text-anchor="start" font-style="normal" font-weight="bold">Low-fat</text>
<text x="479.80" y="37.30" font-size="14.9" text-anchor="start" font-style="normal" font-weight="bold">HFHF</text>
<text x="370.20" y="141.60" font-size="19.6" text-anchor="middle" font-style="normal" font-weight="bold" transform="rotate(-90 370.20 141.60)">AIR (pM)</text>
<line x1="418.80" y1="328.50" x2="418.80" y2="508.20" stroke="#000" stroke-width="2.0"/>
<line x1="417.80" y1="507.20" x2="634.00" y2="507.20" stroke="#000" stroke-width="2.0"/>
<line x1="413.30" y1="507.00" x2="418.80" y2="507.00" stroke="#000" stroke-width="2.0"/>
<text x="405.60" y="512.16" font-size="14.4" text-anchor="end" font-style="normal" font-weight="bold">0</text>
<line x1="413.30" y1="465.10" x2="418.80" y2="465.10" stroke="#000" stroke-width="2.0"/>
<text x="405.60" y="470.26" font-size="14.4" text-anchor="end" font-style="normal" font-weight="bold">2</text>
<line x1="413.30" y1="423.10" x2="418.80" y2="423.10" stroke="#000" stroke-width="2.0"/>
<text x="405.60" y="428.26" font-size="14.4" text-anchor="end" font-style="normal" font-weight="bold">4</text>
<line x1="413.30" y1="381.30" x2="418.80" y2="381.30" stroke="#000" stroke-width="2.0"/>
<text x="405.60" y="386.46" font-size="14.4" text-anchor="end" font-style="normal" font-weight="bold">6</text>
<line x1="413.30" y1="339.20" x2="418.80" y2="339.20" stroke="#000" stroke-width="2.0"/>
<text x="405.60" y="344.36" font-size="14.4" text-anchor="end" font-style="normal" font-weight="bold">8</text>
<line x1="477.00" y1="507.20" x2="477.00" y2="513.20" stroke="#000" stroke-width="2.0"/>
<line x1="574.20" y1="507.20" x2="574.20" y2="513.20" stroke="#000" stroke-width="2.0"/>
<line x1="458.70" y1="459.90" x2="458.70" y2="466.10" stroke="#000" stroke-width="1.3"/>
<line x1="453.70" y1="459.90" x2="463.70" y2="459.90" stroke="#000" stroke-width="1.6"/>
<rect x="444.10" y="466.10" width="29.20" height="41.10" fill="#c0c0c0" stroke="#000" stroke-width="1.2"/>
<line x1="495.70" y1="410.30" x2="495.70" y2="420.70" stroke="#000" stroke-width="1.3"/>
<line x1="490.70" y1="410.30" x2="500.70" y2="410.30" stroke="#000" stroke-width="1.6"/>
<rect x="480.80" y="420.70" width="29.80" height="86.50" fill="#000" stroke="#000" stroke-width="1.2"/>
<line x1="556.50" y1="465.20" x2="556.50" y2="481.20" stroke="#000" stroke-width="1.3"/>
<line x1="551.50" y1="465.20" x2="561.50" y2="465.20" stroke="#000" stroke-width="1.6"/>
<rect x="541.90" y="481.20" width="29.20" height="26.00" fill="#c0c0c0" stroke="#000" stroke-width="1.2"/>
<line x1="593.05" y1="375.90" x2="593.05" y2="387.80" stroke="#000" stroke-width="1.3"/>
<line x1="588.05" y1="375.90" x2="598.05" y2="375.90" stroke="#000" stroke-width="1.6"/>
<rect x="578.00" y="387.80" width="30.10" height="119.40" fill="#000" stroke="#000" stroke-width="1.2"/>
<path d="M457.30,367.40 L457.30,359.60 L495.80,359.60 L495.80,367.40" fill="none" stroke="#000" stroke-width="1.5"/>
<path d="M556.00,366.50 L556.00,358.50 L594.60,358.50 L594.60,366.50" fill="none" stroke="#000" stroke-width="1.5"/>
<path d="M494.30,336.00 L494.30,328.80 L593.00,328.80 L593.00,336.00" fill="none" stroke="#000" stroke-width="1.5"/>
<text x="477.00" y="364.72" font-size="24" text-anchor="middle" font-style="normal" font-weight="bold">**</text>
<text x="574.80" y="364.72" font-size="24" text-anchor="middle" font-style="normal" font-weight="bold">***</text>
<text x="546.60" y="332.72" font-size="24" text-anchor="middle" font-style="normal" font-weight="bold">*</text>
<text x="477.00" y="535.90" font-size="16.8" text-anchor="middle" font-style="normal" font-weight="bold">9th</text>
<text x="574.70" y="535.90" font-size="16.8" text-anchor="middle" font-style="normal" font-weight="bold">12th</text>
<text x="337.50" y="308.30" font-size="19" text-anchor="start" font-style="normal" font-weight="bold">e</text>
<text x="353.00" y="421.00" font-size="19" text-anchor="middle" font-style="normal" font-weight="bold" transform="rotate(-90 353.00 421.00)">Insulin increase rate</text>
<text x="377.00" y="417.40" font-size="19" text-anchor="middle" font-style="normal" font-weight="bold" transform="rotate(-90 377.00 417.40)">at 2<tspan font-size="14.2" dy="-9.6">nd</tspan><tspan dy="9.6"> phase (pM/min)</tspan></text>
<line x1="421.20" y1="635.20" x2="421.20" y2="813.50" stroke="#000" stroke-width="2.0"/>
<line x1="420.20" y1="812.50" x2="634.00" y2="812.50" stroke="#000" stroke-width="2.0"/>
<line x1="415.70" y1="812.70" x2="421.20" y2="812.70" stroke="#000" stroke-width="2.0"/>
<text x="408.00" y="817.86" font-size="14.4" text-anchor="end" font-style="normal" font-weight="bold">0</text>
<line x1="415.70" y1="768.40" x2="421.20" y2="768.40" stroke="#000" stroke-width="2.0"/>
<text x="408.00" y="773.56" font-size="14.4" text-anchor="end" font-style="normal" font-weight="bold">50</text>
<line x1="415.70" y1="724.30" x2="421.20" y2="724.30" stroke="#000" stroke-width="2.0"/>
<text x="408.00" y="729.46" font-size="14.4" text-anchor="end" font-style="normal" font-weight="bold">100</text>
<line x1="415.70" y1="680.20" x2="421.20" y2="680.20" stroke="#000" stroke-width="2.0"/>
<text x="408.00" y="685.36" font-size="14.4" text-anchor="end" font-style="normal" font-weight="bold">150</text>
<line x1="415.70" y1="636.20" x2="421.20" y2="636.20" stroke="#000" stroke-width="2.0"/>
<text x="408.00" y="641.36" font-size="14.4" text-anchor="end" font-style="normal" font-weight="bold">200</text>
<line x1="478.60" y1="812.50" x2="478.60" y2="818.50" stroke="#000" stroke-width="2.0"/>
<line x1="574.80" y1="812.50" x2="574.80" y2="818.50" stroke="#000" stroke-width="2.0"/>
<line x1="460.60" y1="785.50" x2="460.60" y2="792.80" stroke="#000" stroke-width="1.3"/>
<line x1="455.60" y1="785.50" x2="465.60" y2="785.50" stroke="#000" stroke-width="1.6"/>
<rect x="445.70" y="792.80" width="29.80" height="19.70" fill="#c0c0c0" stroke="#000" stroke-width="1.2"/>
<line x1="496.90" y1="685.20" x2="496.90" y2="706.60" stroke="#000" stroke-width="1.3"/>
<line x1="491.90" y1="685.20" x2="501.90" y2="685.20" stroke="#000" stroke-width="1.6"/>
<rect x="481.70" y="706.60" width="30.40" height="105.90" fill="#000" stroke="#000" stroke-width="1.2"/>
<line x1="556.95" y1="795.90" x2="556.95" y2="797.50" stroke="#000" stroke-width="1.3"/>
<line x1="551.95" y1="795.90" x2="561.95" y2="795.90" stroke="#000" stroke-width="1.6"/>
<rect x="542.20" y="797.50" width="29.50" height="15.00" fill="#c0c0c0" stroke="#000" stroke-width="1.2"/>
<line x1="593.20" y1="746.40" x2="593.20" y2="763.60" stroke="#000" stroke-width="1.3"/>
<line x1="588.20" y1="746.40" x2="598.20" y2="746.40" stroke="#000" stroke-width="1.6"/>
<rect x="578.30" y="763.60" width="29.80" height="48.90" fill="#000" stroke="#000" stroke-width="1.2"/>
<path d="M458.80,671.10 L458.80,662.70 L496.50,662.70 L496.50,671.10" fill="none" stroke="#000" stroke-width="1.5"/>
<path d="M557.00,671.10 L557.00,662.70 L594.00,662.70 L594.00,671.10" fill="none" stroke="#000" stroke-width="1.5"/>
<path d="M494.90,644.50 L494.90,635.70 L593.00,635.70 L593.00,644.50" fill="none" stroke="#000" stroke-width="1.5"/>
<text x="477.60" y="668.72" font-size="24" text-anchor="middle" font-style="normal" font-weight="bold">*</text>
<text x="575.80" y="658.60" font-size="16" text-anchor="middle" font-style="italic" font-weight="bold">NS</text>
<text x="546.50" y="632.00" font-size="16.5" text-anchor="middle" font-style="italic" font-weight="bold">NS</text>
<text x="477.80" y="842.00" font-size="16.8" text-anchor="middle" font-style="normal" font-weight="bold">9th</text>
<text x="574.70" y="842.00" font-size="16.8" text-anchor="middle" font-style="normal" font-weight="bold">12th</text>
<text x="338.80" y="622.70" font-size="19" text-anchor="start" font-style="normal" font-weight="bold">f</text>
<text x="528.30" y="868.40" font-size="19.4" text-anchor="middle" font-style="normal" font-weight="bold">Time (month)</text>
<text x="349.80" y="724.50" font-size="19.7" text-anchor="middle" font-style="normal" font-weight="bold" transform="rotate(-90 349.80 724.50)">2-h postload insulin</text>
<text x="373.30" y="725.30" font-size="19" text-anchor="middle" font-style="normal" font-weight="bold" transform="rotate(-90 373.30 725.30)">(pM)</text>
</svg>
</body></html>
